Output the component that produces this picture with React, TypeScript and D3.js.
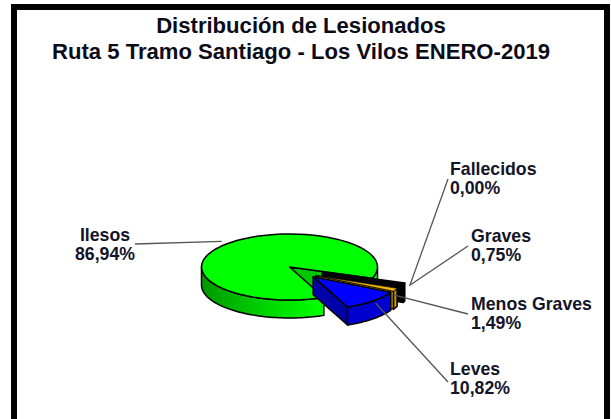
import React from "react";
import * as d3 from "d3";

const categories = ["Fallecidos", "Graves", "Menos Graves", "Leves", "Ilesos"];
const shares = [0, 0.75, 1.49, 10.82, 86.94];
const topColors = ["#000000", "#000000", "#f0b800", "#0000ff", "#00ff00"];
const sideColors = ["#000000", "#000000", "#c89a00", "#0000d0", "url(#greenSide)"];
const cutColors = ["#000000", "#000000", "#d8a400", "#0000a8", "#00c800"];
const titleLines = ["Distribución de Lesionados", "Ruta 5 Tramo Santiago - Los Vilos ENERO-2019"];

const width = 611;
const height = 419;
const cx = 289.5;
const cy = 267;
const rx = 88;
const tilt = 0.375;
const depth = 18;
const explode = 35;
const startDeg = 110;
// the gold slice sits lower than its own mid angle would put it
const goldPullDeg = 131;

// label block position and where the leader reaches it
const labelLayout = [
  { x: 450, y: 175, lx: 448, ly: 179, ox: 5, oy: 2 },
  { x: 471, y: 242, lx: 468, ly: 246, ox: 5, oy: 2 },
  { x: 471, y: 310, lx: 468, ly: 314, ox: -2, oy: 5 },
  { x: 450, y: 375, lx: 448, ly: 382, ox: 3, oy: 2 },
  { x: 132, y: 241, lx: 135, ly: 244, ox: -4, oy: -3 },
];

const fmt = (v: number) => v.toFixed(2).replace(".", ",") + "%";

export default function App() {
  const pie = d3
    .pie<number>()
    .sort(null)
    .startAngle((startDeg * Math.PI) / 180)
    .endAngle((startDeg * Math.PI) / 180 + 2 * Math.PI);
  const arcs = pie(shares);

  const line = d3
    .line<[number, number]>()
    .x((d) => d[0])
    .y((d) => d[1]);

  const slices = arcs.map((a, i) => {
    const mid = (a.startAngle + a.endAngle) / 2;
    const pull = i === 2 ? (goldPullDeg * Math.PI) / 180 : mid;
    // only the small ones are pulled out of the pie
    const off = i === 4 ? 0 : explode;
    const ox = cx + off * Math.sin(pull);
    const oy = cy - off * Math.cos(pull) * tilt;
    const pt = (ang: number, r = rx, dy = 0): [number, number] => [
      ox + r * Math.sin(ang),
      oy - r * Math.cos(ang) * tilt + dy,
    ];
    const sample = (a0: number, a1: number) =>
      d3.range(0, 61).map((k) => a0 + ((a1 - a0) * k) / 60);

    const top = line([[ox, oy], ...sample(a.startAngle, a.endAngle).map((t) => pt(t))]) + "Z";

    const walls: string[] = [];
    [
      [Math.PI / 2, (3 * Math.PI) / 2],
      [(5 * Math.PI) / 2, (7 * Math.PI) / 2],
    ].forEach(([lo, hi]) => {
      const a0 = Math.max(lo, a.startAngle);
      const a1 = Math.min(hi, a.endAngle);
      if (a1 > a0) {
        const ts = sample(a0, a1);
        walls.push(
          line([...ts.map((t) => pt(t)), ...ts.slice().reverse().map((t) => pt(t, rx, depth))]) + "Z"
        );
      }
    });

    const end = pt(a.endAngle);
    const cut =
      line([
        [ox, oy],
        end,
        [end[0], end[1] + depth],
        [ox, oy + depth],
      ]) + "Z";

    return { i, top, walls, cut, rim: pt(mid), value: a.value };
  });

  const drawn = slices.filter((s) => s.value > 0);
  const order = [drawn[drawn.length - 1], ...drawn.slice(0, -1)];

  return (
    <svg
      width={width}
      height={height}
      style={{ position: "absolute", left: 0, top: 0, background: "#fff" }}
      fontFamily="'Liberation Sans', Arial, sans-serif"
      fontWeight="bold"
      fill="#141428"
    >
      <defs>
        <linearGradient id="greenSide" gradientUnits="userSpaceOnUse" x1={cx - rx} x2={cx + 30} y1="0" y2="0">
          <stop offset="0" stopColor="#009800" />
          <stop offset="0.5" stopColor="#00d000" />
          <stop offset="1" stopColor="#00ff00" />
        </linearGradient>
      </defs>

      <path
        d={`M14,${height + 5}V7H607V${height + 5}`}
        fill="none"
        stroke="#000"
        strokeWidth={6}
      />

      {titleLines.map((t, i) => (
        <text key={t} x={301} y={33 + i * 26} textAnchor="middle" fontSize={22.1} fill="#0c0c18">
          {t}
        </text>
      ))}

      {order.map((s) => (
        <g key={s.i} stroke="#000" strokeWidth={1.5} strokeLinejoin="round">
          <path d={s.cut} fill={cutColors[s.i]} />
          {s.walls.map((d, k) => (
            <path key={k} d={d} fill={sideColors[s.i]} />
          ))}
          <path d={s.top} fill={topColors[s.i]} strokeWidth={s.i === 2 ? 0.6 : 1.5} />
        </g>
      ))}

      {slices.map((s) => {
        const l = labelLayout[s.i];
        return (
          <line
            key={s.i}
            x1={s.rim[0] + l.ox}
            y1={s.rim[1] + l.oy}
            x2={l.lx}
            y2={l.ly}
            stroke="#555"
            strokeWidth={1.3}
          />
        );
      })}

      {categories.map((c, i) => {
        const l = labelLayout[i];
        const anchor = i === 4 ? "middle" : "start";
        return (
          <text key={c} textAnchor={anchor} fontSize={17.7}>
            <tspan x={i === 4 ? 105 : l.x} y={l.y}>
              {c}
            </tspan>
            <tspan x={i === 4 ? 105 : l.x} y={l.y + 19}>
              {fmt(shares[i])}
            </tspan>
          </text>
        );
      })}
    </svg>
  );
}
